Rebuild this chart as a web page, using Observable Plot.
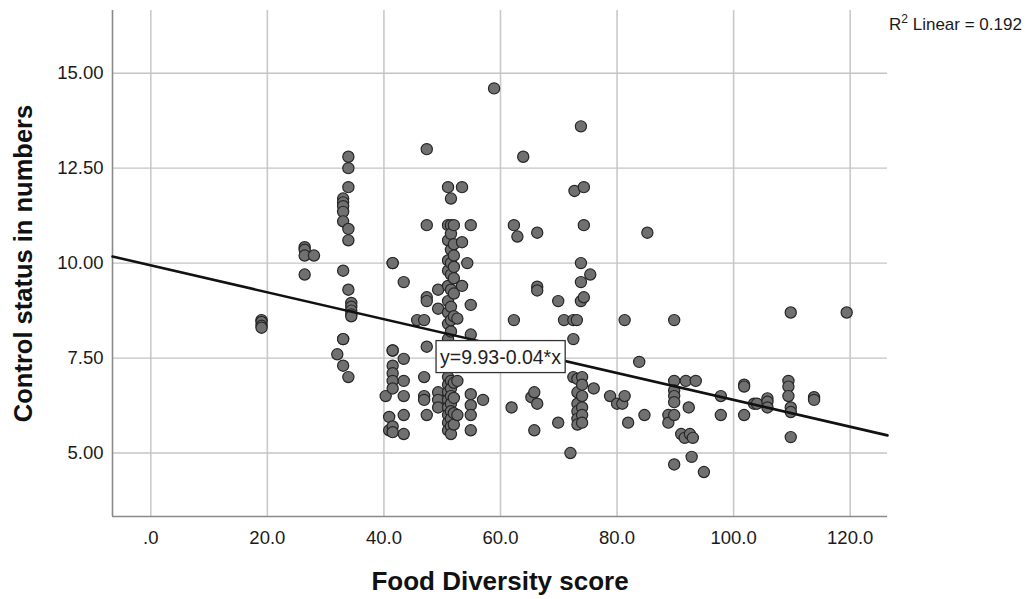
<!DOCTYPE html>
<html><head><meta charset="utf-8">
<script src="https://cdn.jsdelivr.net/npm/d3@7"></script>
<script src="https://cdn.jsdelivr.net/npm/@observablehq/plot@0.6"></script>
<style>
body{margin:0;background:#fff;font-family:"Liberation Sans",Arial,sans-serif;}
#wrap{position:relative;width:1030px;height:599px;}
#r2{position:absolute;left:889px;top:12px;font-size:17px;color:#1a1a1a;white-space:nowrap;}
#r2 sup{font-size:12px;}
</style></head><body><div id="wrap"><div id="r2">R<sup>2</sup> Linear = 0.192</div></div>
<script>
// Food Diversity score columns and Control status values at each column
const scoreColumns = [19.0, 26.4, 28.0, 32.0, 33.0, 33.9, 34.4, 40.3, 40.9, 41.5, 43.4, 45.7, 46.9, 47.35, 49.3,
  51.0, 51.5, 52.0, 52.6, 53.4, 54.3, 54.9, 57.0, 58.9, 61.9, 62.3, 62.9, 63.9, 65.3, 65.8, 66.3, 69.9, 70.9,
  72.0, 72.5, 72.7, 73.1, 73.8, 74.3, 73.2, 74.0, 75.4, 76.0, 78.8, 80.0, 80.9, 81.3, 81.9, 83.8, 84.7, 85.2,
  88.8, 89.8, 91.0, 91.6, 91.8, 92.3, 92.5, 92.8, 93.0, 93.5, 94.9, 97.8, 101.8, 103.5, 104.0, 105.8, 109.4, 109.8, 113.8, 119.4];
const controlByColumn = [
  [8.5, 8.45, 8.35, 8.3],
  [10.42, 10.35, 10.2, 9.7],
  [10.2],
  [7.6],
  [11.7, 11.6, 11.5, 11.35, 11.1, 9.8, 8.0, 8.0, 7.3],
  [12.8, 12.5, 12.0, 10.9, 10.6, 9.3, 7.0],
  [8.95, 8.85, 8.75, 8.65, 8.6],
  [6.5],
  [5.95, 5.6],
  [10.0, 10.0, 7.7, 7.7, 7.3, 7.1, 6.9, 6.7, 5.7, 5.55],
  [9.5, 7.48, 6.9, 6.5, 6.0, 5.5],
  [8.5],
  [8.5, 7.0, 6.5, 6.4],
  [13.0, 11.0, 9.1, 9.0, 7.8, 6.0],
  [9.3, 8.8, 6.6, 6.4, 6.2],
  [12.0, 11.0, 10.6, 10.07, 9.8, 9.4, 9.0, 8.7, 8.4, 8.0, 7.6, 7.0, 6.8, 6.6, 6.4, 6.2, 6.0, 5.8, 5.6],
  [11.7, 11.0, 10.77, 10.35, 10.0, 9.7, 9.3, 8.85, 8.5, 8.2, 7.8, 6.9, 6.7, 6.5, 6.3, 6.1, 5.9, 5.7, 5.5],
  [11.0, 10.5, 10.2, 9.9, 9.6, 9.2, 8.6, 7.4, 6.85, 6.45, 6.05, 5.75],
  [8.54, 6.9, 6.0],
  [12.0, 10.55, 9.4],
  [10.0],
  [11.0, 8.9, 8.12, 6.55, 6.26, 6.0, 5.6],
  [6.4],
  [14.6],
  [6.2],
  [11.0, 8.5],
  [10.7],
  [12.8],
  [6.47],
  [6.6, 5.6],
  [10.8, 9.38, 9.28, 6.3],
  [9.0, 5.8],
  [8.5],
  [5.0],
  [8.5, 8.0, 7.0],
  [11.9],
  [8.5],
  [13.6, 10.0, 9.5, 9.0],
  [12.0, 11.0, 9.1],
  [6.95, 6.6, 6.3, 6.1, 5.9, 5.75],
  [7.0, 6.8, 6.5, 6.2, 6.0, 5.8],
  [9.7],
  [6.7],
  [6.5],
  [6.3],
  [6.3],
  [8.5, 6.5],
  [5.8],
  [7.4],
  [6.0],
  [10.8],
  [6.0, 5.8],
  [8.5, 6.9, 6.65, 6.5, 6.34, 6.0, 4.7],
  [5.5],
  [5.4],
  [6.9],
  [6.2],
  [5.5],
  [4.9],
  [5.4],
  [6.9],
  [4.5],
  [6.5, 6.0],
  [6.8, 6.75, 6.0],
  [6.3],
  [6.3],
  [6.44, 6.35, 6.2],
  [6.9, 6.75, 6.5],
  [8.7, 6.2, 6.08, 5.42],
  [6.47, 6.4],
  [8.7]
];
const xTicks = [0, 20, 40, 60, 80, 100, 120];
const yTicks = [5, 7.5, 10, 12.5, 15];
const xDomain = [-6.57, 126.4];
const yDomain = [3.33, 16.65];
const fitIntercept = [9.94];
const fitSlope = [-0.0354];
const equationText = ["y=9.93-0.04*x"];
const equationAt = [60, 7.52];
const xTitle = "Food Diversity score";
const yTitle = "Control status in numbers";

const points = scoreColumns.flatMap((s, i) => controlByColumn[i].map(c => ({score: s, control: c})));
const fitLine = xDomain.map(x => ({score: x, control: fitIntercept[0] + fitSlope[0] * x}));
const xFmt = v => v === 0 ? ".0" : v.toFixed(1);
const font = "Liberation Sans, Arial, sans-serif";

const chart = Plot.plot({
  width: 1030, height: 599,
  marginTop: 10, marginLeft: 112, marginRight: 143, marginBottom: 83,
  style: {fontFamily: font, fontSize: "18.5px", color: "#1a1a1a", background: "transparent"},
  x: {domain: xDomain},
  y: {domain: yDomain},
  marks: [
    Plot.gridX(xTicks, {stroke: "#c9c9c9", strokeOpacity: 1, strokeWidth: 1.6}),
    Plot.gridY(yTicks, {stroke: "#c4c4c4", strokeOpacity: 1, strokeWidth: 1.4}),
    Plot.ruleX([xDomain[0]], {stroke: "#8a8a8a", strokeWidth: 1.6}),
    Plot.ruleY([yDomain[0]], {stroke: "#8a8a8a", strokeWidth: 1.6}),
    Plot.axisX(xTicks, {tickSize: 0, tickPadding: 14, tickFormat: xFmt, label: null, fill: "#1a1a1a", fontSize: 18.5}),
    Plot.axisY(yTicks, {tickSize: 0, tickPadding: 9, tickFormat: d3.format(".2f"), label: null, fill: "#1a1a1a", fontSize: 18.5}),
    Plot.dot(points, {x: "score", y: "control", r: 5.6, fill: "#707070", stroke: "#262626", strokeWidth: 1.2}),
    Plot.line(fitLine, {x: "score", y: "control", stroke: "#111", strokeWidth: 2.6}),
    Plot.text(equationText, {x: () => equationAt[0], y: () => equationAt[1], text: d => d, fontSize: 19.5, fill: "#222", className: "eqlabel"}),
    Plot.text([xTitle], {frameAnchor: "bottom", dy: 65, lineAnchor: "middle", textAnchor: "middle", text: d => d, fontSize: 26, fontWeight: "bold", fill: "#111"}),
    Plot.text([yTitle], {frameAnchor: "left", dx: -89, rotate: -90, lineAnchor: "middle", textAnchor: "middle", text: d => d, fontSize: 25.5, fontWeight: "bold", fill: "#111"})
  ]
});
document.getElementById("wrap").prepend(chart);
const t = chart.querySelector("g.eqlabel text");
if (t) {
  const b = t.getBBox();
  const r = document.createElementNS("http://www.w3.org/2000/svg", "rect");
  r.setAttribute("x", b.x - 4); r.setAttribute("y", b.y - 5);
  r.setAttribute("width", b.width + 8); r.setAttribute("height", b.height + 10);
  const tr = t.getAttribute("transform");
  if (tr) r.setAttribute("transform", tr);
  r.setAttribute("fill", "#fff"); r.setAttribute("stroke", "#333"); r.setAttribute("stroke-width", "1.3");
  t.parentNode.insertBefore(r, t);
}
</script></body></html>
